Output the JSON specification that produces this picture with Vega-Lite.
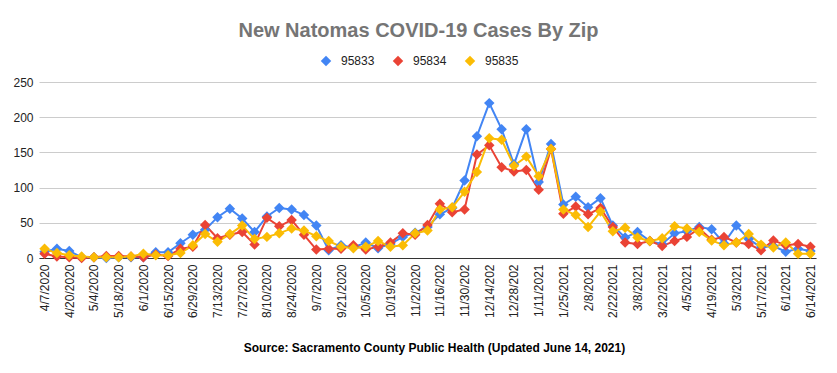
{
  "$schema": "https://vega.github.io/schema/vega-lite/v6.json",
  "autosize": "none",
  "width": 777,
  "height": 176,
  "padding": {"left": 39, "top": 82, "right": 21, "bottom": 115},
  "background": "white",
  "config": {
    "font": "Liberation Sans",
    "view": {"stroke": null},
    "axis": {"labelFont": "Liberation Sans", "titleFont": "Liberation Sans"},
    "legend": {"labelFont": "Liberation Sans"}
  },
  "title": {
    "text": "New Natomas COVID-19 Cases By Zip",
    "fontSize": 20,
    "fontWeight": "bold",
    "color": "#757575",
    "anchor": "middle",
    "dx": -9,
    "offset": 14
  },
  "datasets": {
    "cases": [
      {"date": "4/7/2020", "b": 9, "r": 6, "y": 13},
      {"date": "4/13/2020", "b": 13, "r": 2, "y": 7},
      {"date": "4/20/2020", "b": 10, "r": 1, "y": 4},
      {"date": "4/27/2020", "b": 1, "r": 0, "y": 2},
      {"date": "5/4/2020", "b": 1, "r": 1, "y": 1},
      {"date": "5/11/2020", "b": 0, "r": 3, "y": 1},
      {"date": "5/18/2020", "b": 1, "r": 3, "y": 1},
      {"date": "5/26/2020", "b": 1, "r": 2, "y": 2},
      {"date": "6/1/2020", "b": 1, "r": 1, "y": 6},
      {"date": "6/8/2020", "b": 8, "r": 5, "y": 4},
      {"date": "6/15/2020", "b": 8, "r": 3, "y": 4},
      {"date": "6/22/2020", "b": 21, "r": 13, "y": 7},
      {"date": "6/29/2020", "b": 33, "r": 16, "y": 18},
      {"date": "7/6/2020", "b": 40, "r": 47, "y": 34},
      {"date": "7/13/2020", "b": 58, "r": 28, "y": 23},
      {"date": "7/20/2020", "b": 70, "r": 33, "y": 34},
      {"date": "7/27/2020", "b": 56, "r": 37, "y": 46},
      {"date": "8/3/2020", "b": 37, "r": 19, "y": 27},
      {"date": "8/10/2020", "b": 59, "r": 57, "y": 30},
      {"date": "8/17/2020", "b": 71, "r": 45, "y": 35},
      {"date": "8/24/2020", "b": 69, "r": 54, "y": 42},
      {"date": "8/31/2020", "b": 61, "r": 33, "y": 39},
      {"date": "9/7/2020", "b": 46, "r": 12, "y": 31},
      {"date": "9/14/2020", "b": 11, "r": 13, "y": 24},
      {"date": "9/21/2020", "b": 18, "r": 13, "y": 16},
      {"date": "9/28/2020", "b": 15, "r": 18, "y": 14},
      {"date": "10/5/2020", "b": 22, "r": 12, "y": 16},
      {"date": "10/12/2020", "b": 14, "r": 16, "y": 24},
      {"date": "10/19/2020", "b": 20, "r": 22, "y": 16},
      {"date": "10/26/2020", "b": 30, "r": 35, "y": 18},
      {"date": "11/2/2020", "b": 36, "r": 33, "y": 35},
      {"date": "11/9/2020", "b": 44, "r": 47, "y": 39},
      {"date": "11/16/2020", "b": 62, "r": 77, "y": 69},
      {"date": "11/23/2020", "b": 71, "r": 65, "y": 72},
      {"date": "11/30/2020", "b": 110, "r": 69, "y": 94},
      {"date": "12/7/2020", "b": 173, "r": 147, "y": 122},
      {"date": "12/14/2020", "b": 220, "r": 160, "y": 170},
      {"date": "12/21/2020", "b": 183, "r": 129, "y": 168},
      {"date": "12/28/2020", "b": 133, "r": 123, "y": 131},
      {"date": "1/4/2021", "b": 183, "r": 125, "y": 144},
      {"date": "1/11/2021", "b": 108, "r": 97, "y": 116},
      {"date": "1/18/2021", "b": 162, "r": 155, "y": 155},
      {"date": "1/25/2021", "b": 76, "r": 63, "y": 69},
      {"date": "2/1/2021", "b": 87, "r": 73, "y": 61},
      {"date": "2/8/2021", "b": 72, "r": 62, "y": 44},
      {"date": "2/15/2021", "b": 85, "r": 71, "y": 66},
      {"date": "2/22/2021", "b": 46, "r": 44, "y": 38},
      {"date": "3/1/2021", "b": 29, "r": 22, "y": 43},
      {"date": "3/8/2021", "b": 37, "r": 20, "y": 29},
      {"date": "3/15/2021", "b": 24, "r": 24, "y": 24},
      {"date": "3/22/2021", "b": 20, "r": 17, "y": 28},
      {"date": "3/29/2021", "b": 35, "r": 24, "y": 45},
      {"date": "4/5/2021", "b": 38, "r": 30, "y": 42},
      {"date": "4/12/2021", "b": 44, "r": 42, "y": 37},
      {"date": "4/19/2021", "b": 41, "r": 26, "y": 25},
      {"date": "4/26/2021", "b": 21, "r": 30, "y": 18},
      {"date": "5/3/2021", "b": 46, "r": 22, "y": 22},
      {"date": "5/10/2021", "b": 27, "r": 20, "y": 34},
      {"date": "5/17/2021", "b": 15, "r": 11, "y": 19},
      {"date": "5/24/2021", "b": 17, "r": 25, "y": 15},
      {"date": "6/1/2021", "b": 9, "r": 18, "y": 22},
      {"date": "6/7/2021", "b": 13, "r": 20, "y": 6},
      {"date": "6/14/2021", "b": 10, "r": 16, "y": 6}
    ]
  },
  "data": {"name": "cases"},
  "transform": [
    {"fold": ["b", "r", "y"], "as": ["key", "cases"]},
    {"lookup": "key", "from": {"data": {"values": [
      {"key": "b", "zip": "95833"},
      {"key": "r", "zip": "95834"},
      {"key": "y", "zip": "95835"}
    ]}, "key": "key", "fields": ["zip"]}}
  ],
  "encoding": {
    "x": {
      "field": "date",
      "type": "ordinal",
      "sort": null,
      "scale": {"type": "point", "padding": 0.45},
      "axis": {
        "values": ["4/7/2020", "4/20/2020", "5/4/2020", "5/18/2020", "6/1/2020", "6/15/2020", "6/29/2020", "7/13/2020", "7/27/2020", "8/10/2020", "8/24/2020", "9/7/2020", "9/21/2020", "10/5/2020", "10/19/2020", "11/2/2020", "11/16/2020", "11/30/2020", "12/14/2020", "12/28/2020", "1/11/2021", "1/25/2021", "2/8/2021", "2/22/2021", "3/8/2021", "3/22/2021", "4/5/2021", "4/19/2021", "5/3/2021", "5/17/2021", "6/1/2021", "6/14/2021"],
        "labelExpr": "substring(datum.label, 0, 9)",
        "labelAngle": -90,
        "labelFontSize": 12,
        "labelColor": "#222222",
        "labelPadding": 6,
        "ticks": false,
        "grid": false,
        "domainColor": "#333333",
        "domainWidth": 1,
        "title": "Source: Sacramento County Public Health (Updated June 14, 2021)",
        "titleFontSize": 12,
        "titleFontWeight": "bold",
        "titleColor": "#000000",
        "titleX": 395,
        "titleY": 89,
        "titleAlign": "center",
        "titleBaseline": "middle"
      }
    },
    "y": {
      "field": "cases",
      "type": "quantitative",
      "scale": {"domain": [0, 250], "nice": false},
      "axis": {
        "values": [0, 50, 100, 150, 200, 250],
        "title": null,
        "domain": false,
        "ticks": false,
        "labelFontSize": 12,
        "labelColor": "#222222",
        "labelPadding": 6,
        "gridColor": "#cccccc",
        "gridWidth": 1
      }
    },
    "color": {
      "field": "zip",
      "type": "nominal",
      "scale": {"domain": ["95833", "95834", "95835"], "range": ["#4285F4", "#EA4335", "#FBBC04"]},
      "legend": {
        "title": null,
        "orient": "none",
        "direction": "horizontal",
        "legendX": 281,
        "legendY": -27,
        "symbolType": "diamond",
        "symbolSize": 110,
        "symbolStrokeWidth": 0,
        "labelFontSize": 12,
        "labelColor": "#222222",
        "labelOffset": 9,
        "columnPadding": 17
      }
    }
  },
  "layer": [
    {"mark": {"type": "line", "strokeWidth": 2}},
    {"mark": {"type": "point", "shape": "diamond", "filled": true, "size": 110, "opacity": 1}}
  ]
}
